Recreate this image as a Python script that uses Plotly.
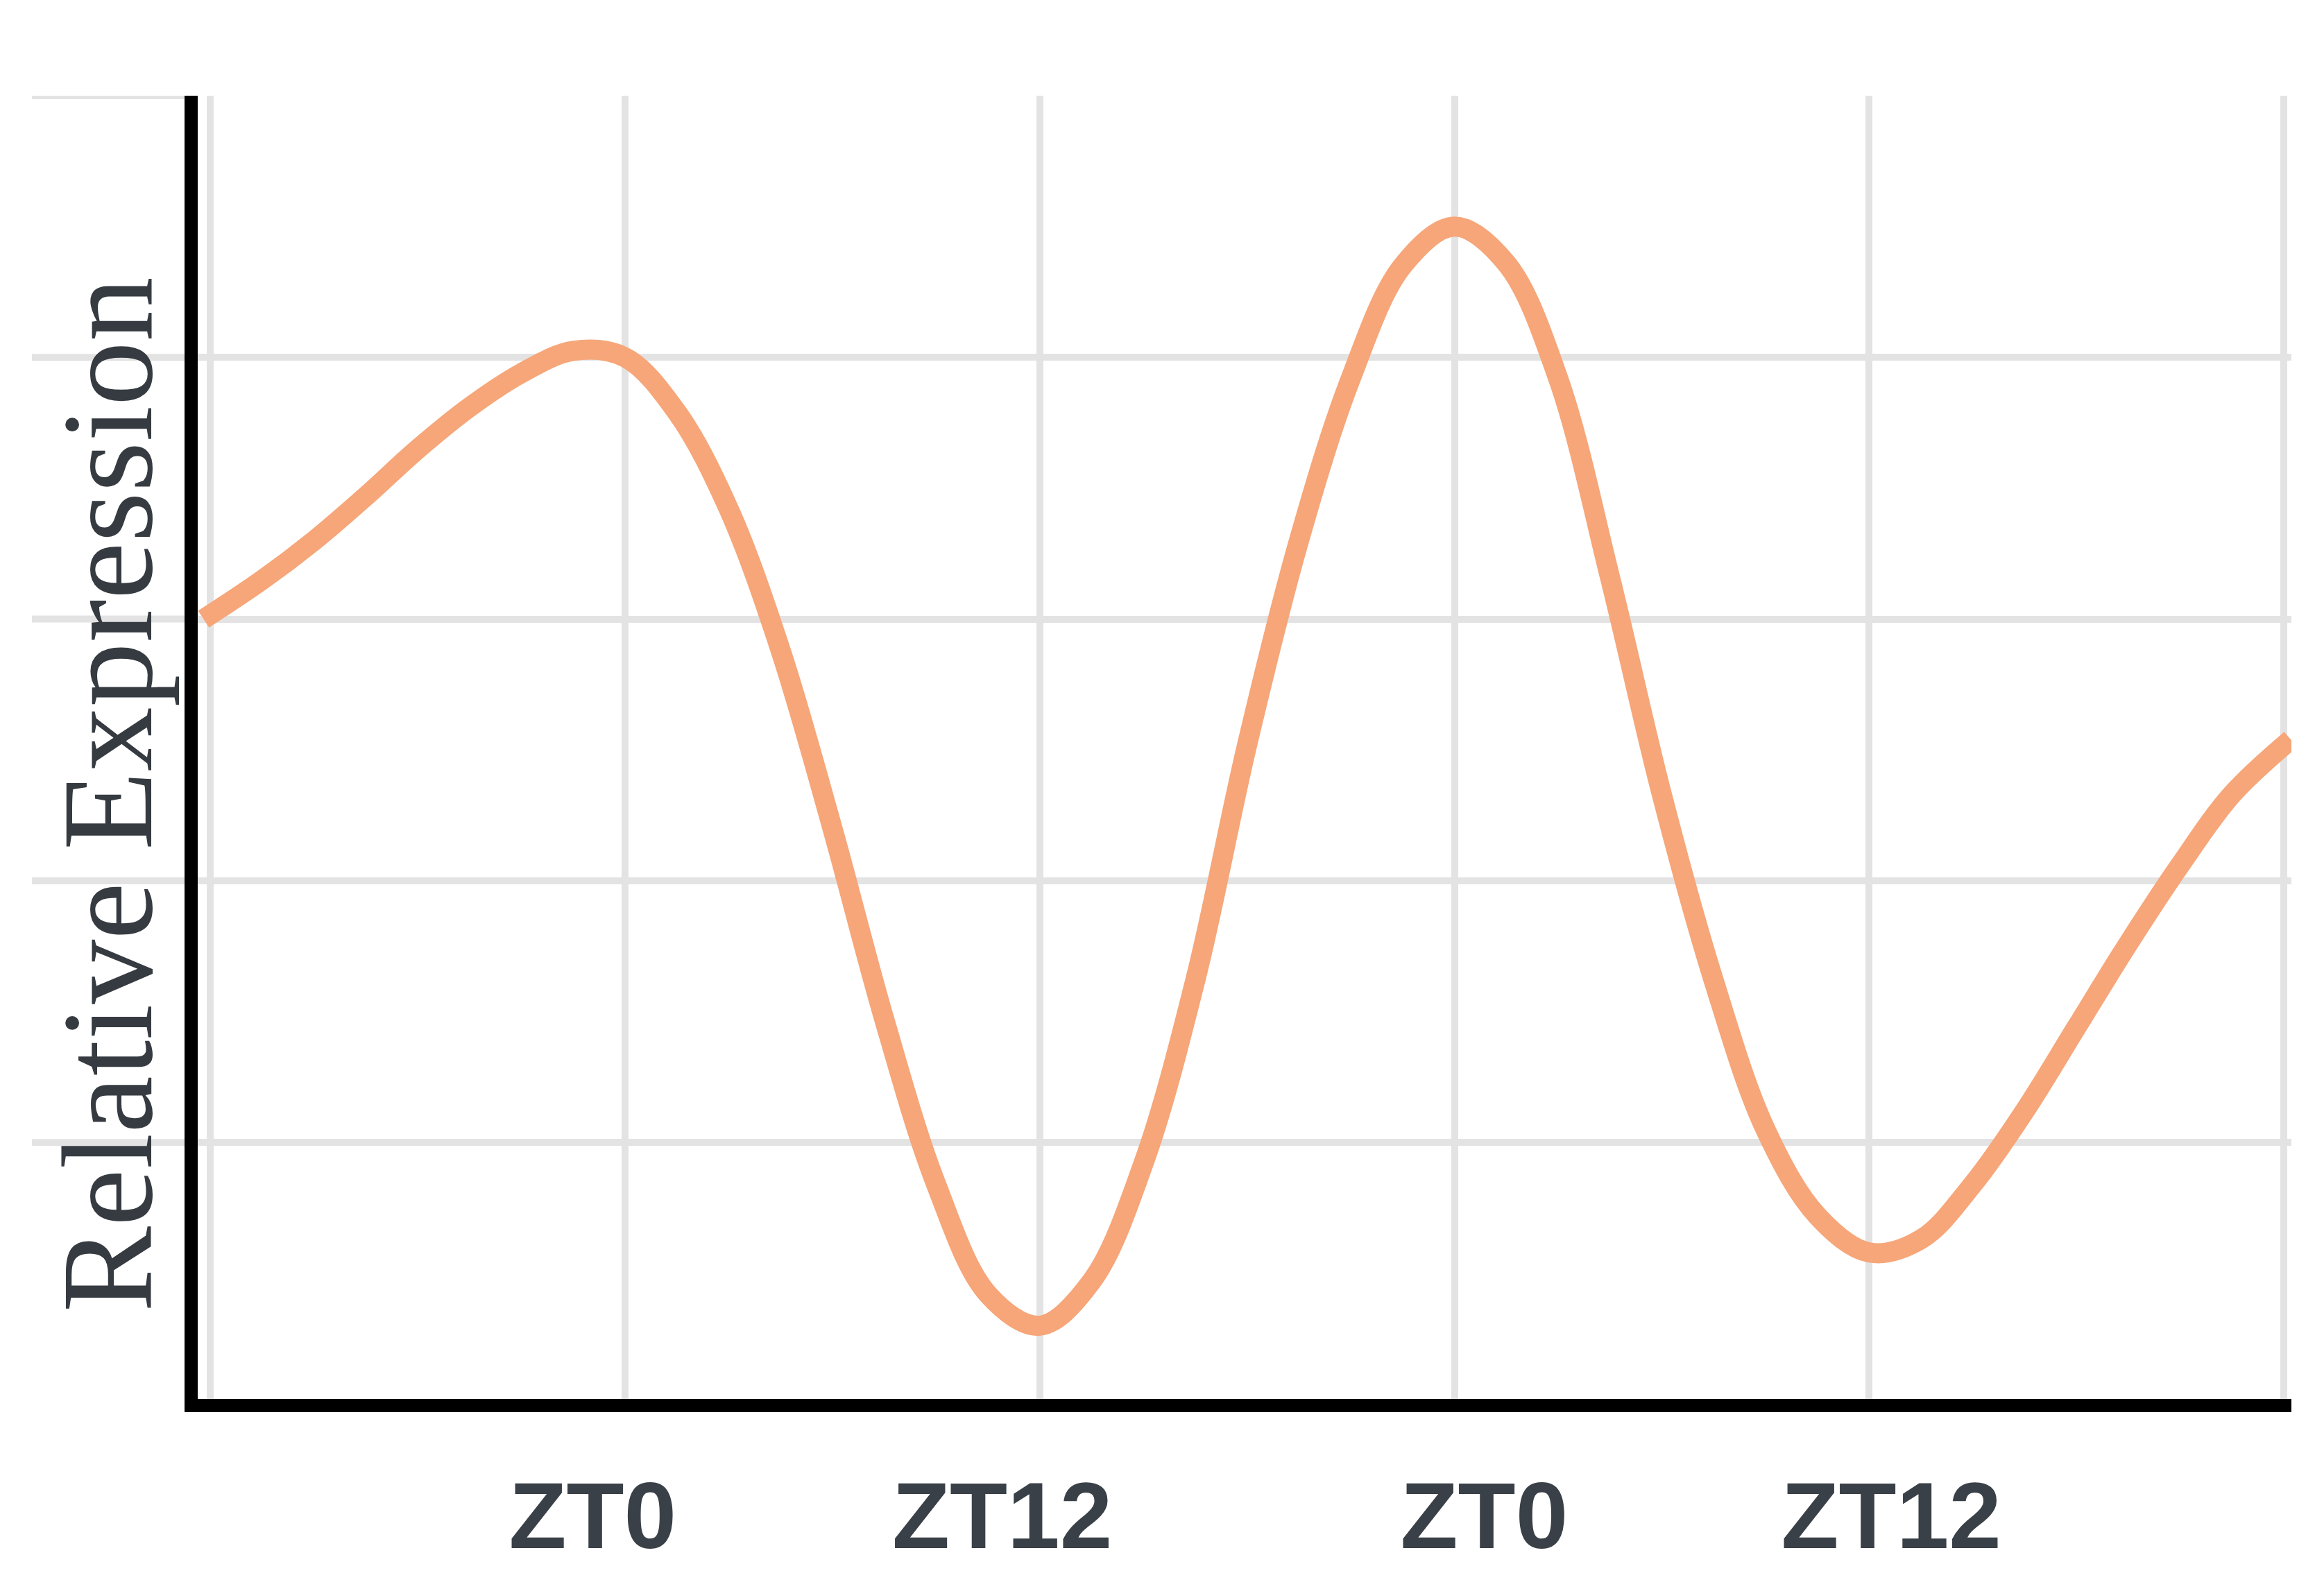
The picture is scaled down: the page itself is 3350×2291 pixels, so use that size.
import plotly.graph_objects as go

# Time in hours (ZT), relative expression values
hours = [-12.2, -10.5, -9.0, -7.5, -6.0, -4.5, -3.0, -1.5, 0.0, 1.5, 3.0, 4.5, 6.0,
         7.5, 9.0, 10.5, 12.0, 13.5, 15.0, 16.5, 18.0, 19.5, 21.0, 22.5, 24.0,
         25.5, 27.0, 28.5, 30.0, 31.5, 33.0, 34.5, 36.0, 37.5, 39.0, 40.5, 42.0,
         43.5, 45.0, 46.5, 48.2]
expression = [3.00, 3.15, 3.30, 3.47, 3.65, 3.81, 3.94, 4.025, 4.00, 3.79, 3.42, 2.88, 2.20,
              1.47, 0.84, 0.42, 0.30, 0.47, 0.92, 1.62, 2.52, 3.30, 3.92, 4.35, 4.50,
              4.36, 3.92, 3.16, 2.33, 1.62, 1.05, 0.72, 0.58, 0.63, 0.84, 1.12, 1.44,
              1.76, 2.06, 2.33, 2.54]

grid_x = [-12, 0, 12, 24, 36, 48]
grid_y = [1, 2, 3, 4, 5]
label_pos = [-0.94, 10.91, 24.86, 36.64]
label_text = ["ZT0", "ZT12", "ZT0", "ZT12"]
y_title = "Relative Expression"

W, H = 3350, 2291
L, R, T, B = 277, 55, 130, 282
XR = [-12.37, 48.22]
YR = [0.02, 5.0]
GRID_COLOR = "#e3e3e3"
GRID_W = 10

fig = go.Figure()
fig.add_trace(go.Scatter(
    x=hours, y=expression, mode="lines",
    line=dict(color="#F6A679", width=29, shape="spline", smoothing=1.0,
              simplify=False),
    hoverinfo="skip", showlegend=False,
))
# invisible trace to activate the label axis
fig.add_trace(go.Scatter(x=[XR[0]], y=[YR[0]], xaxis="x2", mode="markers",
                         marker=dict(opacity=0), showlegend=False, hoverinfo="skip"))

plot_w = W - L - R
plot_h = H - T - B
ext = (38 - L) / plot_w
shapes = []
for gy in grid_y:
    shapes.append(dict(type="line", xref="paper", yref="y", x0=ext, x1=0,
                       y0=gy, y1=gy, line=dict(color=GRID_COLOR, width=GRID_W),
                       layer="below"))

fig.update_layout(
    width=W, height=H,
    margin=dict(l=L, r=R, t=T, b=B, pad=0),
    paper_bgcolor="white", plot_bgcolor="white",
    showlegend=False,
    shapes=shapes,
    xaxis=dict(range=XR, tickmode="array", tickvals=grid_x, showticklabels=False,
               showgrid=True, gridcolor=GRID_COLOR, gridwidth=GRID_W,
               zeroline=False, showline=True, linecolor="black", linewidth=19,
               ticks=""),
    xaxis2=dict(range=XR, overlaying="x", side="bottom", tickmode="array",
                tickvals=label_pos, ticktext=label_text, showgrid=False,
                zeroline=False, showline=False, ticks="",
                ticklabelstandoff=78,
                tickfont=dict(family="Liberation Sans, Arial, sans-serif", size=136,
                              color="#3a4047", weight="bold")),
    yaxis=dict(range=YR, tickmode="array", tickvals=grid_y, showticklabels=False,
               showgrid=True, gridcolor=GRID_COLOR, gridwidth=GRID_W,
               zeroline=False, showline=True, linecolor="black", linewidth=19,
               ticks=""),
    annotations=[dict(text=y_title, xref="paper", yref="paper",
                      x=(147 - L) / plot_w, y=(H - B - 1138) / plot_h,
                      xanchor="center", yanchor="middle", textangle=-90,
                      showarrow=False,
                      font=dict(family="Liberation Serif, Times New Roman, serif",
                                size=186, color="#363b41"))],
)

fig.write_html("out.html")
